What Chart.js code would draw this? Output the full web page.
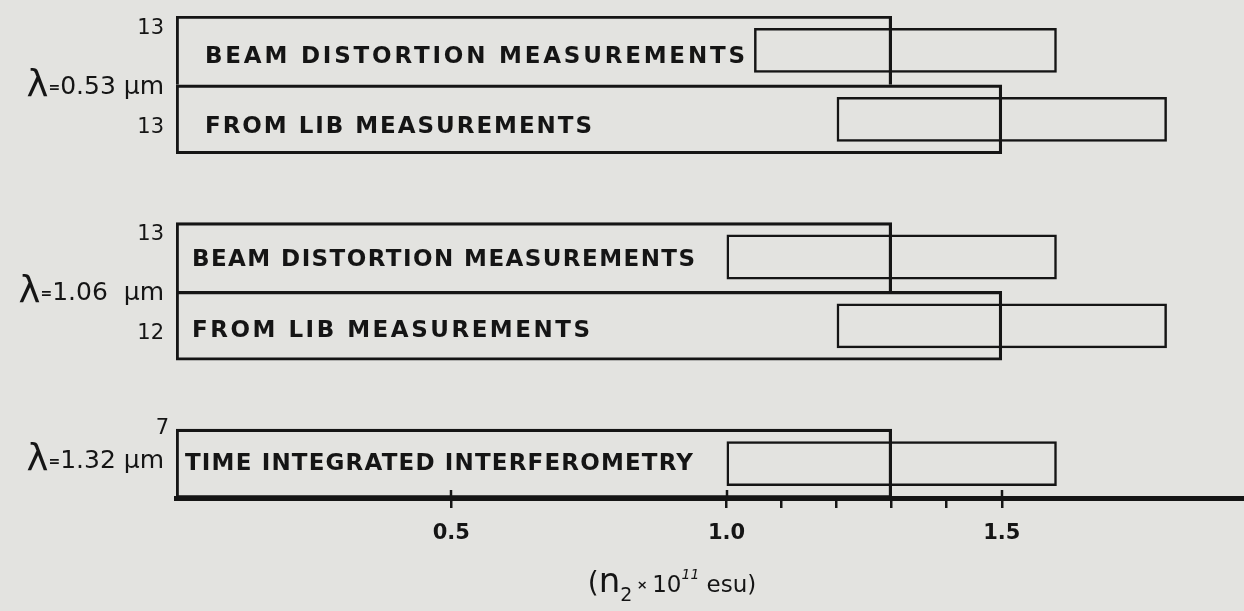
<!DOCTYPE html>
<html>
<head>
<meta charset="utf-8">
<script src="https://cdn.jsdelivr.net/npm/chart.js@4.4.0/dist/chart.umd.min.js"></script>
<style>
  html, body { margin: 0; padding: 0; background: #e3e3e0; }
  canvas { display: block; }
</style>
</head>
<body>
<canvas id="chart" width="1244" height="611"></canvas>
<script>
// rows top to bottom, the empty rows are the gaps between wavelengths
var rows = ['0.53 beam', '0.53 lib', 'gap1', '1.06 beam', '1.06 lib', 'gap2', '1.32 interf'];
var methods = ['BEAM DISTORTION MEASUREMENTS', 'FROM LIB MEASUREMENTS', null,
               'BEAM DISTORTION MEASUREMENTS', 'FROM LIB MEASUREMENTS', null,
               'TIME INTEGRATED INTERFEROMETRY'];
var refs = ['13', '13', null, '13', '12', null, '7'];
var frameRange = [[0, 1.3], [0, 1.5], null, [0, 1.3], [0, 1.5], null, [0, 1.3]];
var n2Range = [[1.05, 1.6], [1.2, 1.8], null, [1.0, 1.6], [1.2, 1.8], null, [1.0, 1.6]];
var wavelengths = ['0.53', '1.06 ', '1.32'];
var waveRows = [[0, 1], [3, 4], [6]];
var tickValues = [0.5, 1.0, 1.1, 1.2, 1.3, 1.4, 1.5];
var tickLabels = ['0.5', '1.0', '', '', '', '', '1.5'];

var INK = '#151515';
var BG = '#e3e3e0';

// where the method text sits in its row (offset from plot left, fitted width, vertical shift)
var textStyle = [{dx: 29, w: 540, dy: 7}, {dx: 29, w: 387, dy: 8}, null,
                 {dx: 16, w: 503, dy: 3}, {dx: 16, w: 398, dy: 5}, null,
                 {dx: 9, w: 508, dy: 0}];
var refStyle = [{x: 164, dy: -22}, {x: 164, dy: 8}, null,
                {x: 164, dy: -22}, {x: 164, dy: 8}, null,
                {x: 169, dy: -35}];

function fitText(ctx, text, x, y, w) {
    ctx.letterSpacing = '0px';
    var w0 = ctx.measureText(text).width;
    var s = (w - w0) / (text.length - 1);
    ctx.letterSpacing = s + 'px';
    ctx.fillText(text, x, y);
    ctx.letterSpacing = '0px';
}

function drawParts(ctx, parts, x, y) {
    // parts: [text, font, dy]
    for (var p of parts) {
        ctx.font = p[1];
        ctx.fillText(p[0], x, y + (p[2] || 0));
        x += ctx.measureText(p[0]).width;
    }
}

function partsWidth(ctx, parts) {
    var w = 0;
    for (var p of parts) {
        ctx.font = p[1];
        w += ctx.measureText(p[0]).width;
    }
    return w;
}

var paperPlugin = {
    id: 'paper',
    beforeDraw: function (chart) {
        var ctx = chart.ctx;
        ctx.save();
        ctx.fillStyle = BG;
        ctx.fillRect(0, 0, chart.width, chart.height);
        ctx.restore();
    },
    afterDraw: function (chart) {
        var ctx = chart.ctx;
        var x = chart.scales.x;
        var y = chart.scales.y;
        var left = chart.chartArea.left;
        var axisY = chart.chartArea.bottom;
        ctx.save();
        ctx.fillStyle = INK;
        ctx.strokeStyle = INK;

        // method names inside the frames
        ctx.font = 'bold 23px "DejaVu Sans"';
        ctx.textBaseline = 'middle';
        ctx.textAlign = 'left';
        methods.forEach(function (m, i) {
            if (!m) return;
            var st = textStyle[i];
            fitText(ctx, m, left + st.dx, y.getPixelForValue(i) + st.dy, st.w);
        });

        // reference numbers
        ctx.font = '21px "DejaVu Sans"';
        ctx.textAlign = 'right';
        refs.forEach(function (r, i) {
            if (!r) return;
            ctx.fillText(r, refStyle[i].x, y.getPixelForValue(i) + refStyle[i].dy);
        });

        // wavelength labels
        ctx.textAlign = 'left';
        ctx.textBaseline = 'alphabetic';
        wavelengths.forEach(function (wl, g) {
            var rs = waveRows[g];
            var cy = 0;
            rs.forEach(function (r) { cy += y.getPixelForValue(r); });
            cy = cy / rs.length + (rs.length > 1 ? 1 : -4);
            var parts = [['λ', '37px "DejaVu Sans"', 3], ['=', 'bold 14px "DejaVu Sans"', -2],
                         [wl + ' μm', '500 25px "DejaVu Sans"', 0]];
            var w = partsWidth(ctx, parts);
            drawParts(ctx, parts, 164 - w, cy + 8);
        });

        // major ticks also cross above the axis
        ctx.lineWidth = 2.5;
        tickValues.forEach(function (v, i) {
            if (!tickLabels[i]) return;
            var px = Math.round(x.getPixelForValue(v));
            ctx.beginPath();
            ctx.moveTo(px, axisY - 8);
            ctx.lineTo(px, axisY);
            ctx.stroke();
        });

        // axis title (n2 x 10^11 esu)
        var title = [['(', '28px "DejaVu Sans"', 0], ['n', '34px "DejaVu Sans"', 0],
                     ['2', '19px "DejaVu Sans"', 9], [' × ', 'bold 13px "DejaVu Sans"', -3],
                     ['10', '23px "DejaVu Sans"', 0], ['11', 'italic 14px "DejaVu Sans"', -13],
                     [' esu)', '23px "DejaVu Sans"', 0]];
        var tw = partsWidth(ctx, title);
        drawParts(ctx, title, 672 - tw / 2, 592);
        ctx.restore();
    }
};

new Chart(document.getElementById('chart'), {
    type: 'bar',
    data: {
        labels: rows,
        datasets: [
            {
                label: 'method',
                data: frameRange,
                grouped: false,
                barPercentage: 1,
                categoryPercentage: 1,
                backgroundColor: 'rgba(0,0,0,0)',
                borderColor: INK,
                borderSkipped: false,
                borderWidth: function (c) {
                    // the lower frame of a pair draws the shared line
                    return {left: 2.5, right: 2.5, top: 2.5, bottom: frameRange[c.dataIndex + 1] ? 0 : 2.5};
                }
            },
            {
                label: 'n2',
                data: n2Range,
                grouped: false,
                barPercentage: 0.65,
                categoryPercentage: 1,
                backgroundColor: 'rgba(0,0,0,0)',
                borderColor: INK,
                borderSkipped: false,
                borderWidth: 2.5
            }
        ]
    },
    options: {
        indexAxis: 'y',
        responsive: false,
        animation: false,
        devicePixelRatio: 1,
        layout: { padding: { left: 176, top: 16, right: 0, bottom: 0 } },
        plugins: {
            legend: { display: false },
            tooltip: { enabled: false },
            title: { display: false }
        },
        scales: {
            x: {
                type: 'linear',
                min: 0,
                max: 1.94,
                afterBuildTicks: function (s) {
                    s.ticks = tickValues.map(function (v) { return {value: v}; });
                },
                afterFit: function (s) { s.height = 113; },
                ticks: {
                    autoSkip: false,
                    maxRotation: 0,
                    padding: 13,
                    color: INK,
                    font: { family: 'DejaVu Sans', size: 21, weight: 'bold' },
                    callback: function (v, i) { return tickLabels[i]; }
                },
                grid: {
                    drawOnChartArea: false,
                    drawTicks: true,
                    tickLength: 10,
                    color: INK,
                    lineWidth: 2.5
                },
                border: { display: true, color: INK, width: 5 }
            },
            y: {
                type: 'category',
                display: false
            }
        }
    },
    plugins: [paperPlugin]
});
</script>
</body>
</html>
